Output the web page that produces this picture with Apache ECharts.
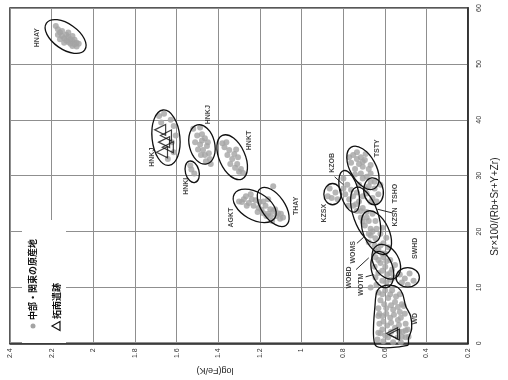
<!DOCTYPE html>
<html><head><meta charset="utf-8">
<script src="https://cdn.jsdelivr.net/npm/echarts@6/dist/echarts.min.js"></script>
<style>html,body{margin:0;padding:0;background:#fff}#c{width:508px;height:380px}</style>
</head><body><div id="c"></div>
<script>
// Axis ticks
const xTicks = [2.4, 2.2, 2, 1.8, 1.6, 1.4, 1.2, 1, 0.8, 0.6, 0.4, 0.2]; // log(Fe/K)
const yTicks = [0, 10, 20, 30, 40, 50, 60]; // Sr*100/(Rb+Sr+Y+Zr)

// Source (gray dots): [log(Fe/K), Sr index]
const ptsHNAY = [[2.18,56.8],[2.17,56.2],[2.16,55.6],[2.15,55.9],[2.15,55.0],[2.14,54.6],[2.13,55.2],[2.13,54.2],[2.12,54.8],[2.12,53.9],[2.11,54.4],[2.11,53.6],[2.10,54.1],[2.10,53.2],[2.09,54.3],[2.09,53.5],[2.08,53.8],[2.08,53.1],[2.07,53.6],[2.14,53.8],[2.16,54.4],[2.12,55.6],[2.17,55.2],[2.10,55.0]];
const ptsHNKJa = [[1.684,40.7],[1.660,41.1],[1.628,40.0],[1.614,38.9],[1.604,37.2],[1.623,36.0],[1.614,34.2],[1.642,33.0],[1.674,39.5]];
const ptsHNKJ = [[1.520,38.4],[1.487,38.6],[1.501,37.2],[1.478,37.4],[1.464,36.7],[1.511,36.0],[1.487,35.6],[1.454,35.3],[1.473,34.6],[1.497,34.7],[1.445,34.0],[1.464,33.7],[1.440,33.0],[1.459,32.6],[1.478,36.3],[1.450,36.0],[1.436,32.1],[1.483,33.7]];
const ptsHNKI = [[1.534,31.8],[1.515,30.4],[1.529,31.1]];
const ptsHNKT = [[1.370,35.1],[1.347,34.6],[1.314,34.7],[1.333,33.0],[1.309,32.1],[1.291,31.2],[1.300,30.7],[1.356,33.7],[1.380,35.8],[1.323,33.9],[1.342,32.1],[1.305,33.3],[1.281,30.5],[1.319,31.4],[1.361,36.0]];
const ptsAGKT = [[1.300,25.4],[1.277,25.8],[1.244,26.7],[1.253,25.1],[1.230,24.6],[1.206,24.2],[1.183,23.3],[1.169,22.8],[1.150,24.0],[1.150,22.8],[1.127,24.0],[1.122,22.8],[1.103,22.3],[1.089,22.5],[1.183,25.4],[1.160,25.8],[1.136,28.1],[1.220,25.6],[1.267,26.3],[1.192,23.9],[1.113,23.3],[1.141,21.9],[1.286,25.3],
  [1.263,24.6],[1.239,25.8],[1.202,25.3],[1.173,24.6],[1.136,23.7],[1.099,23.2],[1.160,23.2],[1.211,23.5]];
const ptsKZ = [[0.752,33.7],[0.734,34.2],[0.715,33.3],[0.696,32.8],[0.724,32.1],[0.706,31.6],[0.677,31.2],[0.743,31.2],[0.715,30.4],[0.687,29.8],[0.668,30.4],[0.649,28.9],[0.762,32.3],[0.692,33.9],
  [0.799,29.5],[0.780,28.4],[0.762,27.5],[0.790,26.7],[0.771,25.8],[0.752,26.3],[0.738,24.9],[0.776,24.6],[0.799,27.7],
  [0.865,27.7],[0.837,27.0],[0.855,26.0],[0.827,25.8],[0.874,26.3],
  [0.677,28.1],[0.649,27.7],[0.631,26.7],[0.659,26.0],[0.687,26.8],[0.621,28.4],
  [0.771,33.3],[0.734,33.0],[0.706,32.5],[0.668,31.9],[0.743,30.2],[0.706,29.5],[0.668,28.9],[0.724,28.4],[0.692,27.7],[0.734,27.0],[0.706,26.3],[0.668,25.3],[0.640,25.4]];
const ptsWO = [[0.724,25.4],[0.706,24.2],[0.687,23.5],[0.715,22.5],[0.677,21.9],[0.696,21.1],[0.668,20.5],[0.734,23.7],
  [0.668,19.3],[0.645,18.8],[0.621,19.6],[0.649,17.5],[0.631,16.7],[0.607,17.9],[0.659,20.0],[0.598,16.1],[0.677,18.1],[0.612,20.7],
  [0.645,15.4],[0.621,14.4],[0.598,13.7],[0.574,14.9],[0.565,13.2],[0.589,12.3],[0.631,12.6],[0.551,14.0],[0.612,11.2],[0.640,10.5],[0.574,11.4],[0.607,15.4],[0.668,10.0],
  [0.752,24.6],[0.715,23.7],[0.659,23.2],[0.687,22.5],[0.645,21.9],[0.706,21.8],[0.677,19.6],[0.640,20.5],[0.593,18.9],[0.621,17.5],[0.584,17.2],[0.645,16.5],[0.612,16.1],[0.631,14.9],[0.593,14.7],[0.649,13.7],[0.612,13.0],[0.574,12.6],[0.645,11.8],[0.593,10.9],[0.556,11.8]];
const ptsSWHD = [[0.528,12.3],[0.504,11.6],[0.481,12.5],[0.490,10.5],[0.462,11.2],[0.518,10.9]];
const ptsWD = [[0.631,9.1],[0.598,9.5],[0.565,9.5],[0.528,8.8],[0.621,7.7],[0.584,8.1],[0.551,7.4],[0.518,7.0],[0.631,6.3],[0.593,6.3],[0.560,6.0],[0.528,5.6],[0.504,5.3],[0.612,4.9],[0.574,4.6],[0.537,4.2],[0.500,3.5],[0.626,3.5],[0.589,3.2],[0.551,2.8],[0.514,2.1],[0.621,1.8],[0.584,1.1],[0.537,1.1],[0.500,1.1],[0.607,0.4],[0.560,0.2],[0.523,0.2],[0.635,0.7],[0.490,2.5],[0.509,6.7],
  [0.612,8.8],[0.574,8.8],[0.546,8.4],[0.603,7.0],[0.570,6.8],[0.537,6.5],[0.626,5.3],[0.593,5.3],[0.556,5.1],[0.523,4.6],[0.607,3.9],[0.570,3.7],[0.532,3.3],[0.500,2.3],[0.612,2.5],[0.570,2.1],[0.532,2.1],[0.598,1.4],[0.518,1.2],[0.486,1.2],[0.631,1.9],[0.631,4.9]];

// Site (open triangles)
const ptsSite = [[1.679,38.2],[1.651,37.2],[1.660,36.0],[1.642,35.1],[1.670,34.2],[0.565,1.8],[0.556,1.6]];

// Group ellipses: centre, major-axis end, minor/major ratio
const ellNames = ['HNAY','HNKJ-a','HNKJ','HNKI','HNKT','AGKT','THAY','KZSX','KZOB','TSTY','TSHO','KZSN','WOMS','WOBD','WOTM','SWHD'];
const ellCenter = [[2.133,54.9],[1.651,36.8],[1.478,35.6],[1.525,30.7],[1.333,33.3],[1.225,24.6],[1.136,24.4],[0.851,26.7],[0.771,27.2],[0.705,31.4],[0.654,27.2],[0.692,23.0],[0.640,19.8],[0.593,14.6],[0.612,13.2],[0.490,11.8]];
const ellAxisEnd = [[2.041,52.5],[1.665,41.75],[1.501,39.1],[1.539,32.6],[1.380,37.2],[1.127,22.5],[1.075,21.1],[0.851,28.6],[0.744,23.5],[0.649,27.7],[0.663,29.6],[0.645,18.1],[0.593,16.0],[0.549,11.7],[0.589,10.0],[0.434,11.8]];
const ellRatio = [0.54,0.5,0.63,0.62,0.54,0.58,0.52,0.82,0.42,0.54,0.72,0.42,0.54,0.68,0.58,0.84];

// WD outline
const wdOutline = [[0.645,-0.35],[0.645,7.9],[0.635,9.5],[0.612,10.2],[0.574,10.4],[0.537,10.0],[0.514,8.8],[0.500,6.7],[0.476,4.9],[0.471,2.6],[0.486,0.9],[0.490,-0.35]];

// Group labels
const labelNames = ['HNAY','HNKJ','HNKJ','HNKI','HNKT','AGKT','THAY','KZSX','KZOB','TSTY','TSHO','KZSN','WOMS','WOBD','WOTM','SWHD','WD'];
const labelPos = [[2.269,54.7],[1.72,33.3],[1.450,40.9],[1.553,28.1],[1.253,36.3],[1.337,22.5],[1.028,24.6],[0.893,23.3],[0.855,32.3],[0.635,34.9],[0.551,26.8],[0.551,22.6],[0.752,16.3],[0.771,11.8],[0.715,10.5],[0.457,17.0],[0.453,4.4]];
const leaders = [[[0.841,29.8],[0.799,28.4]],[[0.635,24.0],[0.560,23.3]],[[0.734,17.9],[0.701,19.0]],[[0.738,13.2],[0.677,15.3]],[[0.692,11.9],[0.654,12.3]]];

const legendSource = '中部・関東の原産地';
const legendSite = '拓南遺跡';

const chart = echarts.init(document.getElementById('c'));
const gray = '#a4a4a4';
const allSource = [].concat(ptsHNAY, ptsHNKJa, ptsHNKJ, ptsHNKI, ptsHNKT, ptsAGKT, ptsKZ, ptsWO, ptsSWHD, ptsWD);
const ellData = ellNames.map((n, i) => [i, ellCenter[i][0], ellCenter[i][1], ellAxisEnd[i][0], ellAxisEnd[i][1], ellRatio[i]]);

chart.setOption({
  backgroundColor: '#fff',
  animation: false,
  textStyle: {fontFamily: 'Liberation Sans, Arial, sans-serif'},
  grid: {left: 10, right: 28, top: 8, bottom: 30, show: true, borderColor: '#222', borderWidth: 1.5},
  xAxis: {
    type: 'value', inverse: true,
    min: Math.min(...xTicks), max: Math.max(...xTicks), interval: 0.2,
    position: 'bottom',
    axisLine: {show: true, lineStyle: {color: '#222', width: 1.5}},
    axisTick: {show: false},
    splitLine: {show: true, lineStyle: {color: '#8f8f8f', width: 1}},
    axisLabel: {rotate: 90, fontSize: 7, color: '#333', margin: 5},
    name: 'log(Fe/K)', nameLocation: 'middle', nameGap: 18, nameRotate: 180,
    nameTextStyle: {fontSize: 9, color: '#222', padding: [0, 0, 0, 48]}
  },
  yAxis: {
    type: 'value', min: Math.min(...yTicks), max: Math.max(...yTicks), interval: 10,
    position: 'right',
    axisLine: {show: true, lineStyle: {color: '#222', width: 1.5}},
    axisTick: {show: false},
    splitLine: {show: true, lineStyle: {color: '#8f8f8f', width: 1}},
    axisLabel: {rotate: 90, fontSize: 7, color: '#333', margin: 7},
    name: 'Sr×100/(Rb+Sr+Y+Zr)', nameLocation: 'middle', nameGap: 18, nameRotate: 90,
    nameTextStyle: {fontSize: 10, color: '#222', padding: [0, 62, 0, 0]}
  },
  graphic: [
    {type: 'rect', z: 100, shape: {x: 22, y: 220, width: 44, height: 123}, style: {fill: '#fff'}},
    {type: 'circle', z: 101, shape: {cx: 33, cy: 326, r: 2.5}, style: {fill: gray}},
    {type: 'text', z: 101, x: 33, y: 320, rotation: Math.PI / 2,
      style: {text: legendSource, font: 'bold 9px "Noto Sans CJK JP"', fill: '#111', textAlign: 'left', textVerticalAlign: 'middle'}},
    {type: 'polygon', z: 101, shape: {points: [[52, 326], [60, 321.5], [60, 330.5]]}, style: {fill: 'none', stroke: '#111', lineWidth: 1.2}},
    {type: 'text', z: 101, x: 57, y: 319, rotation: Math.PI / 2,
      style: {text: legendSite, font: 'bold 9px "Noto Sans CJK JP"', fill: '#111', textAlign: 'left', textVerticalAlign: 'middle'}}
  ],
  series: [
    {type: 'scatter', name: 'source', data: allSource, symbolSize: 6, itemStyle: {color: gray}, z: 2, silent: true},
    {type: 'custom', name: 'WD', data: [[0]], z: 3, silent: true,
      renderItem: (params, api) => ({type: 'polygon', shape: {points: wdOutline.map(p => api.coord(p)), smooth: 0.25},
        style: {fill: 'none', stroke: '#111', lineWidth: 1.3}})},
    {type: 'custom', name: 'ellipses', data: ellData, z: 3, silent: true,
      renderItem: (params, api) => {
        const c = api.coord([api.value(1), api.value(2)]);
        const e = api.coord([api.value(3), api.value(4)]);
        const dx = e[0] - c[0], dy = e[1] - c[1];
        const a = Math.hypot(dx, dy);
        return {type: 'ellipse', x: c[0], y: c[1], rotation: -Math.atan2(dy, dx),
          shape: {cx: 0, cy: 0, rx: a, ry: a * api.value(5)},
          style: {fill: 'none', stroke: '#111', lineWidth: 1.3}};
      }},
    {type: 'scatter', name: 'site', data: ptsSite, symbol: 'triangle', symbolRotate: 90, symbolSize: 11,
      itemStyle: {color: 'rgba(255,255,255,0)', borderColor: '#111', borderWidth: 1.2}, z: 4, silent: true},
    {type: 'lines', coordinateSystem: 'cartesian2d', data: leaders.map(c => ({coords: c})),
      lineStyle: {color: '#111', width: 0.9, opacity: 1}, z: 4, silent: true},
    {type: 'scatter', name: 'labels', data: labelPos.map((p, i) => ({value: p, name: labelNames[i]})), symbolSize: 0, z: 5, silent: true,
      label: {show: true, position: 'inside', rotate: 90, formatter: p => p.name, fontSize: 7, fontWeight: 'bold', color: '#111'}}
  ]
});
</script></body></html>
